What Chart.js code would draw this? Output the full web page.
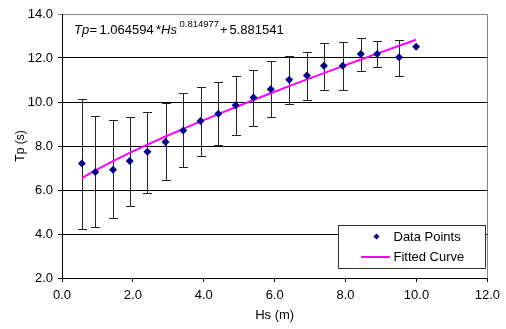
<!DOCTYPE html>
<html>
<head>
<meta charset="utf-8">
<script src="https://cdn.jsdelivr.net/npm/chart.js@4.4.0/dist/chart.umd.min.js"></script>
<style>
html,body{margin:0;padding:0;background:#fff;}
#wrap{position:relative;width:506px;height:329px;}
</style>
</head>
<body>
<div id="wrap"><canvas id="c" width="506" height="329"></canvas></div>
<script>
// Data
const hs     = [0.56, 0.94, 1.44, 1.91, 2.41, 2.92, 3.42, 3.91, 4.41, 4.90, 5.40, 5.89, 6.41, 6.91, 7.39, 7.92, 8.43, 8.89, 9.51, 9.99];
const tp     = [7.21, 6.82, 6.92, 7.32, 7.74, 8.18, 8.70, 9.14, 9.47, 9.85, 10.20, 10.58, 11.01, 11.20, 11.65, 11.65, 12.18, 12.18, 12.03, 12.51];
const tpHigh = [10.14, 9.36, 9.18, 9.30, 9.56, 9.94, 10.42, 10.67, 10.92, 11.20, 11.44, 11.88, 12.10, 12.26, 12.70, 12.74, 12.92, 12.79, 12.83, null];
const tpLow  = [4.24, 4.32, 4.71, 5.29, 5.86, 6.44, 7.03, 7.56, 8.03, 8.49, 8.92, 9.30, 9.91, 10.10, 10.55, 10.55, 11.41, 11.60, 11.20, null];
const fitTp  = [6.545, 6.894, 7.315, 7.686, 8.062, 8.431, 8.782, 9.116, 9.450, 9.769, 10.090, 10.398, 10.720, 11.026, 11.315, 11.631, 11.931, 12.199, 12.555, 12.828];
const xTicks = [0, 2, 4, 6, 8, 10, 12];
const yTicks = [2, 4, 6, 8, 10, 12, 14];
const seriesNames = ['Data Points', 'Fitted Curve'];
const axisTitles = ['Hs (m)', 'Tp (s)'];

const FONT = '"Liberation Sans", Arial, sans-serif';

const errorBars = {
  id: 'errorBars',
  beforeDatasetsDraw(chart) {
    const ctx = chart.ctx, xs = chart.scales.x, ys = chart.scales.y;
    ctx.save();
    ctx.strokeStyle = '#222';
    ctx.lineWidth = 1;
    for (let i = 0; i < hs.length; i++) {
      if (tpHigh[i] == null) continue;
      const x = Math.round(xs.getPixelForValue(hs[i])) + 0.5;
      const yh = Math.round(ys.getPixelForValue(tpHigh[i])) + 0.5;
      const yl = Math.round(ys.getPixelForValue(tpLow[i])) + 0.5;
      ctx.beginPath();
      ctx.moveTo(x, yh); ctx.lineTo(x, yl);
      ctx.moveTo(x - 4.5, yh); ctx.lineTo(x + 4.5, yh);
      ctx.moveTo(x - 4.5, yl); ctx.lineTo(x + 4.5, yl);
      ctx.stroke();
    }
    ctx.restore();
  }
};

const extras = {
  id: 'extras',
  beforeDraw(chart) {
    const ctx = chart.ctx, a = chart.chartArea;
    ctx.save();
    ctx.strokeStyle = '#888';
    ctx.lineWidth = 1;
    ctx.beginPath();
    ctx.moveTo(Math.round(a.left) + 0.5, Math.round(a.top) + 0.5);
    ctx.lineTo(Math.round(a.right) + 0.5, Math.round(a.top) + 0.5);
    ctx.lineTo(Math.round(a.right) + 0.5, Math.round(a.bottom) + 0.5);
    ctx.stroke();
    ctx.restore();
  },
  afterDraw(chart) {
    const ctx = chart.ctx;
    ctx.save();
    // equation
    ctx.fillStyle = '#000';
    ctx.textBaseline = 'alphabetic';
    const base = 34;
    ctx.font = 'italic 13px ' + FONT;
    ctx.fillText('Tp', 74, base);
    ctx.font = '13px ' + FONT;
    ctx.fillText('=', 89.5, base);
    ctx.fillText('1.064594', 99.5, base);
    ctx.fillText('*', 156, base);
    ctx.font = 'italic 13px ' + FONT;
    ctx.fillText('Hs', 161, base);
    ctx.font = '9.5px ' + FONT;
    ctx.fillText('0.814977', 179.5, base - 7);
    ctx.font = '13px ' + FONT;
    ctx.fillText('+', 220, base);
    ctx.fillText('5.881541', 229.5, base);

    // legend
    ctx.fillStyle = '#fff';
    ctx.fillRect(338, 225, 147, 43);
    ctx.strokeStyle = '#333';
    ctx.lineWidth = 1;
    ctx.strokeRect(338.5, 225.5, 147, 43);
    ctx.fillStyle = '#000080';
    ctx.beginPath();
    ctx.moveTo(376.5, 233.5); ctx.lineTo(379.5, 236.5); ctx.lineTo(376.5, 239.5); ctx.lineTo(373.5, 236.5);
    ctx.closePath(); ctx.fill();
    ctx.strokeStyle = '#ff00ff';
    ctx.lineWidth = 2;
    ctx.beginPath(); ctx.moveTo(361, 257); ctx.lineTo(390, 257); ctx.stroke();
    ctx.fillStyle = '#000';
    ctx.font = '13px ' + FONT;
    ctx.textBaseline = 'middle';
    ctx.fillText(seriesNames[0], 393.5, 237);
    ctx.fillText(seriesNames[1], 393.5, 257);
    ctx.restore();
  }
};

new Chart(document.getElementById('c'), {
  type: 'scatter',
  data: {
    datasets: [
      {
        label: seriesNames[0],
        data: hs.map((x, i) => ({x: x, y: tp[i]})),
        pointStyle: 'rectRot',
        pointRadius: 4,
        pointBackgroundColor: '#000080',
        pointBorderColor: '#000080',
        pointBorderWidth: 0,
        showLine: false,
        order: 0
      },
      {
        label: seriesNames[1],
        data: hs.map((x, i) => ({x: x, y: fitTp[i]})),
        showLine: true,
        borderColor: '#ff00ff',
        borderWidth: 2,
        pointRadius: 0,
        tension: 0,
        fill: false,
        order: 1
      }
    ]
  },
  plugins: [errorBars, extras],
  options: {
    responsive: false,
    animation: false,
    events: [],
    layout: { padding: { left: 0, right: 15, top: 14, bottom: 0 } },
    plugins: { legend: { display: false }, tooltip: { enabled: false } },
    scales: {
      x: {
        type: 'linear',
        min: 0, max: 12,
        afterBuildTicks(s) { s.ticks = xTicks.map(v => ({value: v})); },
        afterFit(s) { s.height = 51; },
        ticks: { color: '#000', font: { family: FONT, size: 13 }, padding: 6, maxRotation: 0,
                 callback: v => Number(v).toFixed(1) },
        grid: { drawOnChartArea: false, drawTicks: true, tickLength: 4, color: '#000', lineWidth: 1 },
        border: { color: '#000', width: 1 },
        title: { display: true, text: axisTitles[0], color: '#000', font: { family: FONT, size: 13 },
                 padding: { top: 0, bottom: 6 } }
      },
      y: {
        type: 'linear',
        min: 2, max: 14,
        afterBuildTicks(s) { s.ticks = yTicks.map(v => ({value: v})); },
        afterFit(s) { s.width = 62; },
        ticks: { color: '#000', font: { family: FONT, size: 13 }, padding: 5,
                 callback: v => Number(v).toFixed(1) },
        grid: { drawTicks: true, tickLength: 4, lineWidth: 1,
                color: c => (c.tick && c.tick.value === 14) ? '#888' : '#000' },
        border: { color: '#000', width: 1 },
        title: { display: true, text: axisTitles[1], color: '#000', font: { family: FONT, size: 12 },
                 padding: { top: 13, bottom: 0 } }
      }
    }
  }
});
</script>
</body>
</html>
